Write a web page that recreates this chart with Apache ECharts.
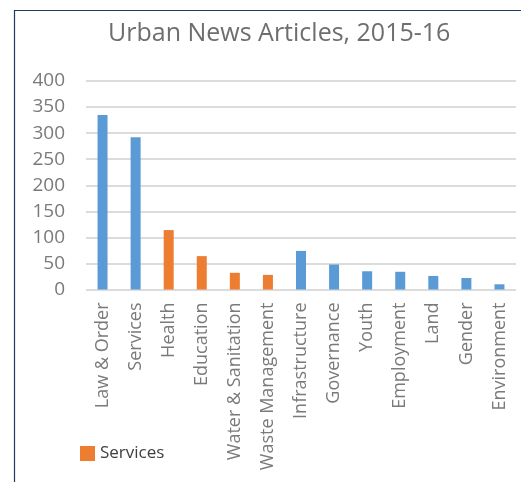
<!DOCTYPE html>
<html>
<head>
<meta charset="utf-8">
<script src="https://cdn.jsdelivr.net/npm/echarts@6/dist/echarts.min.js"></script>
<style>
html,body{margin:0;padding:0;background:#fff;}
#chart{width:521px;height:482px;}
</style>
</head>
<body>
<div id="chart"></div>
<script>
var categories = ['Law & Order','Services','Health','Education','Water & Sanitation','Waste Management','Infrastructure','Governance','Youth','Employment','Land','Gender','Environment'];
var blueValues = [335, 292, null, null, null, null, 74, 48, 35, 34, 26, 22, 10];
var orangeValues = [null, null, 114, 64, 32, 28, null, null, null, null, null, null, null];
var yTicks = [0, 50, 100, 150, 200, 250, 300, 350, 400];

var chart = echarts.init(document.getElementById('chart'));
chart.setOption({
  backgroundColor: '#ffffff',
  animation: false,
  title: {
    text: 'Urban News Articles, 2015-16',
    left: 108,
    top: 21,
    padding: 0,
    textStyle: {fontFamily: 'Open Sans', fontSize: 25, fontWeight: 'normal', color: '#6e6e6e'}
  },
  graphic: [{
    type: 'rect',
    shape: {x: 14.5, y: 10.5, width: 600, height: 600},
    style: {fill: 'none', stroke: '#1f3864', lineWidth: 1.2},
    silent: true
  }],
  legend: {
    data: ['Services'],
    left: 80,
    top: 445,
    padding: 0,
    itemWidth: 15,
    itemHeight: 15,
    icon: 'rect',
    textStyle: {fontFamily: 'Open Sans', fontSize: 17, color: '#404040'}
  },
  grid: {left: 86, right: 5, top: 81, bottom: 192.5, containLabel: false},
  xAxis: {
    type: 'category',
    data: categories,
    axisLine: {show: false},
    axisTick: {show: false},
    axisLabel: {rotate: 90, interval: 0, margin: 13, fontFamily: 'Open Sans', fontSize: 18, color: '#7a7a7a'}
  },
  yAxis: {
    type: 'value',
    min: yTicks[0],
    max: yTicks[yTicks.length - 1],
    interval: 50,
    axisLine: {show: false},
    axisTick: {show: false},
    axisLabel: {margin: 21, fontFamily: 'Open Sans', fontSize: 19, color: '#7a7a7a'},
    splitLine: {lineStyle: {color: '#dcdcdc', width: 2}}
  },
  series: [
    {name: 'Main', type: 'bar', stack: 'a', data: blueValues, barWidth: 10, itemStyle: {color: '#5b9bd5'}},
    {name: 'Services', type: 'bar', stack: 'a', data: orangeValues, barWidth: 10, itemStyle: {color: '#ed7d31'}}
  ]
});
</script>
</body>
</html>
